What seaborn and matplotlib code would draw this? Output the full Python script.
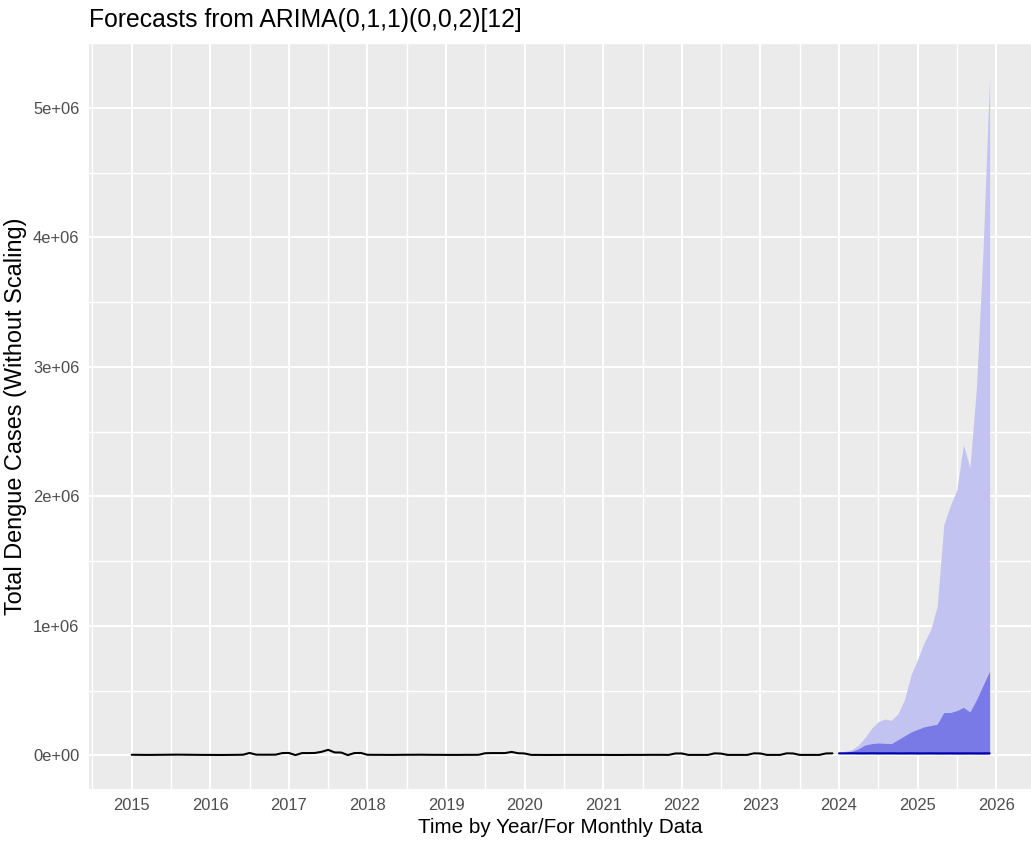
import numpy as np
import pandas as pd
import matplotlib
matplotlib.use("Agg")
import matplotlib.pyplot as plt
import seaborn as sns

# ---- observed monthly dengue cases, Jan 2015 - Dec 2023 ----
cases_2015 = [4000, 3500, 3000, 3000, 3500, 4000, 4500, 5000, 4500, 4000, 3500, 3000]
cases_2016 = [3000, 2500, 2500, 3000, 3500, 4500, 18000, 5000, 4500, 4500, 5000, 17000]
cases_2017 = [18000, 1500, 17000, 17000, 18000, 27000, 42000, 22000, 21000, 1500, 17000, 18000]
cases_2018 = [4000, 3500, 3500, 3000, 3000, 3500, 4000, 4000, 4500, 4000, 3500, 3500]
cases_2019 = [3000, 3000, 3000, 3500, 3500, 4000, 16000, 17000, 17000, 17000, 26000, 16000]
cases_2020 = [14000, 3000, 3000, 2500, 2500, 2500, 3000, 3000, 3000, 3000, 3000, 3000]
cases_2021 = [3000, 2500, 2500, 2500, 3000, 3000, 3000, 3500, 3500, 3500, 3000, 14000]
cases_2022 = [14000, 3000, 3000, 3000, 3000, 15000, 13000, 3000, 3000, 3000, 3000, 15000]
cases_2023 = [14000, 3000, 3000, 3000, 15000, 14000, 3000, 3000, 3000, 3000, 14000, 15000]

# ---- 24-month forecast, Jan 2024 - Dec 2025 ----
fc_mean = [15000, 15000, 15500, 15000, 15000, 15500, 15000, 15000, 15500, 15000, 15000, 15500,
           15000, 15000, 15500, 15000, 15000, 15500, 15000, 15000, 15500, 15000, 15000, 15500]
fc_lo80 = [13000, 12500, 12500, 12000, 12000, 12000, 11500, 11500, 11500, 11000, 11000, 11000,
           10500, 10500, 10500, 10000, 10000, 10000, 9500, 9500, 9500, 9000, 9000, 9000]
fc_hi80 = [20000, 25000, 32000, 50000, 80000, 90000, 95000, 92000, 90000, 120000, 150000, 180000,
           200000, 220000, 230000, 240000, 330000, 330000, 345000, 370000, 335000, 430000, 540000, 650000]
fc_lo95 = [11000, 10500, 10000, 10000, 9500, 9500, 9000, 9000, 8500, 8500, 8000, 8000,
           7500, 7500, 7000, 7000, 6500, 6500, 6000, 6000, 5500, 5500, 5000, 5000]
fc_hi95 = [22000, 32000, 45000, 80000, 140000, 210000, 260000, 280000, 270000, 320000, 430000, 620000,
           740000, 870000, 970000, 1150000, 1780000, 1930000, 2050000, 2400000, 2220000, 2850000, 3900000, 5240000]

# axis labelling
year_ticks = list(range(2015, 2027))
year_labels = [str(y) for y in year_ticks]
case_ticks = [0, 1e6, 2e6, 3e6, 4e6, 5e6]
case_labels = ["0e+00", "1e+06", "2e+06", "3e+06", "4e+06", "5e+06"]

title = "Forecasts from ARIMA(0,1,1)(0,0,2)[12]"
xlabel = "Time by Year/For Monthly Data"
ylabel = "Total Dengue Cases (Without Scaling)"

# ---- tables ----
observed = (cases_2015 + cases_2016 + cases_2017 + cases_2018 + cases_2019
            + cases_2020 + cases_2021 + cases_2022 + cases_2023)
hist = pd.DataFrame({"time": 2015 + np.arange(len(observed)) / 12, "cases": observed})
fc = pd.DataFrame({
    "time": 2024 + np.arange(len(fc_mean)) / 12,
    "mean": fc_mean, "lo80": fc_lo80, "hi80": fc_hi80, "lo95": fc_lo95, "hi95": fc_hi95,
})

# ---- ggplot-like grey theme ----
DPI = 135
sns.set_theme(style="darkgrid", rc={
    "axes.facecolor": "#EBEBEB",
    "figure.facecolor": "white",
    "grid.color": "white",
    "axes.edgecolor": "#EBEBEB",
    "xtick.color": "#333333",
    "ytick.color": "#333333",
    "xtick.labelcolor": "#4D4D4D",
    "ytick.labelcolor": "#4D4D4D",
})
plt.rcParams["font.family"] = ["Liberation Sans", "DejaVu Sans"]

fig = plt.figure(figsize=(1031 / DPI, 854 / DPI), dpi=DPI)
W, H = 1031, 854
left_px, right_px, top_px, bottom_px = 88.8, 1032.5, 43, 789
ax = fig.add_axes([left_px / W, 1 - bottom_px / H,
                   (right_px - left_px) / W, (bottom_px - top_px) / H])

light = "#C3C3F1"
dark = "#7A7AE7"

ax.fill_between(fc["time"], fc["lo95"], fc["hi95"], color=light, lw=0, zorder=2)
ax.fill_between(fc["time"], fc["lo80"], fc["hi80"], color=dark, lw=0, zorder=3)
sns.lineplot(data=hist, x="time", y="cases", color="black", lw=1.1, ax=ax, zorder=4)
sns.lineplot(data=fc, x="time", y="mean", color="#0000AA", lw=1.1, ax=ax, zorder=5)

# ticks and grid
ax.set_xticks(year_ticks, labels=year_labels)
ax.set_yticks(case_ticks, labels=case_labels)
ax.set_xticks([y + 0.5 for y in range(2014, 2027)], minor=True)
ax.set_yticks([v + 0.5e6 for v in [-1e6] + case_ticks], minor=True)

# 5% padding on both scales, computed from the data (set after the ticks)
xmin, xmax = hist["time"].min(), fc["time"].max()
xpad = 0.05 * (xmax - xmin)
ax.set_xlim(xmin - xpad, xmax + xpad)
yvals = np.concatenate([hist["cases"].values,
                        fc[["lo95", "hi95", "lo80", "hi80", "mean"]].values.ravel()])
ymin, ymax = yvals.min(), yvals.max()
ypad = 0.05 * (ymax - ymin)
ax.set_ylim(ymin - ypad, ymax + ypad)

ax.grid(which="major", color="white", lw=1.1)
ax.grid(which="minor", color="white", lw=0.75)
ax.tick_params(which="major", length=2.75, width=1.0, pad=2.2, labelsize=8.8)
ax.tick_params(which="minor", length=0)
for s in ax.spines.values():
    s.set_visible(False)

ax.set_xlabel(xlabel, fontsize=11, color="black", labelpad=2.75)
ax.set_ylabel(ylabel, fontsize=12.5, color="black", labelpad=3.0)
ax.set_title(title, loc="left", fontsize=13.2, color="black", pad=8.5)

fig.savefig("out.png", dpi=DPI)
